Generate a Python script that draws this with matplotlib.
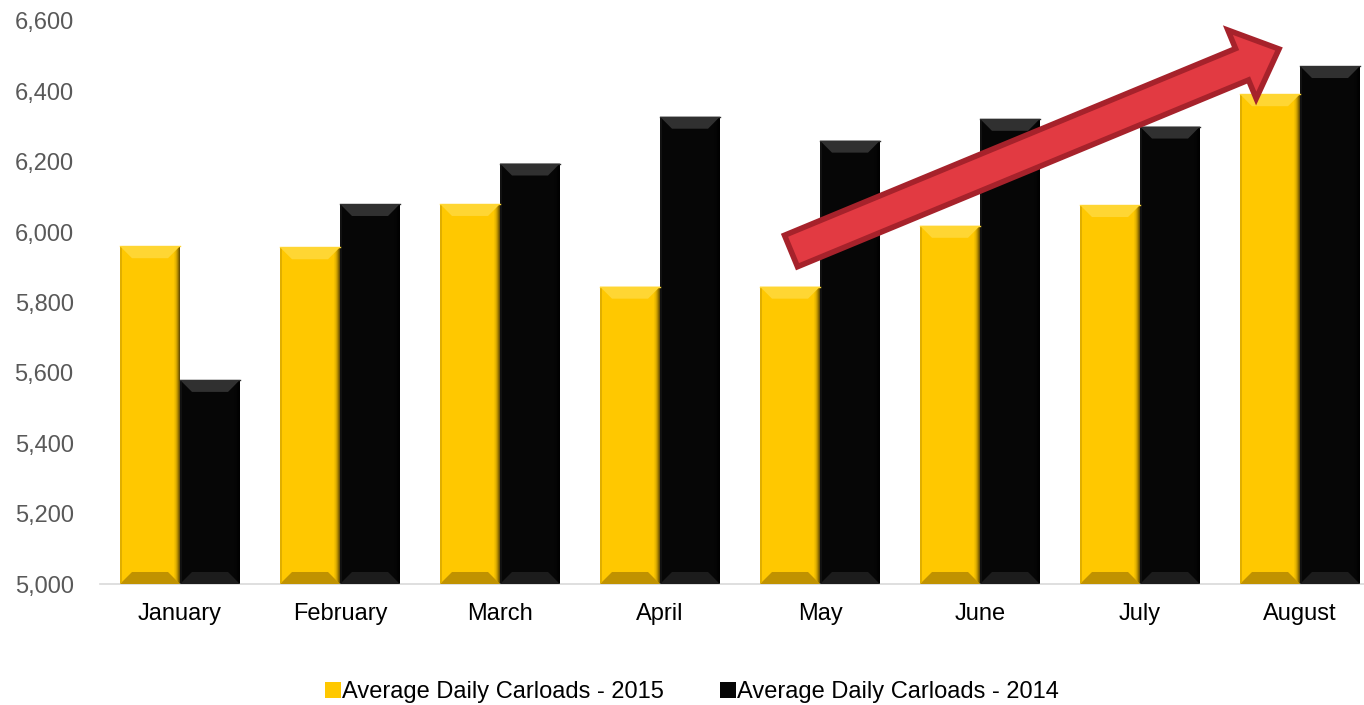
import matplotlib
matplotlib.use('Agg')
from matplotlib import pyplot as plt
from matplotlib.patches import Polygon
import numpy as np

plt.rcParams['font.family'] = ['Liberation Sans', 'DejaVu Sans']

months = ['January', 'February', 'March', 'April', 'May', 'June', 'July', 'August']
carloads_2015 = [5960, 5957, 6080, 5845, 5845, 6018, 6077, 6392]
carloads_2014 = [5580, 6080, 6195, 6328, 6260, 6322, 6300, 6472]
y_ticks = [5000, 5200, 5400, 5600, 5800, 6000, 6200, 6400, 6600]

W, H = 1364, 705
fig = plt.figure(figsize=(W / 100, H / 100), dpi=100)
# axes spans pixels x 100..1380 (clipped at the right), y 21..584
ax = fig.add_axes([100 / W, (H - 584) / H, 1280 / W, 563 / H])
ax.set_xlim(-0.5, 7.5)
ax.set_ylim(5000, 6600)

x = np.arange(len(months))
bw = 0.375
b15 = ax.bar(x - bw / 2, np.array(carloads_2015) - 5000, bw, bottom=5000, color='#FFC800', zorder=2)
b14 = ax.bar(x + bw / 2, np.array(carloads_2014) - 5000, bw, bottom=5000, color='#060606', zorder=2)

# pixel -> data sizes for the bevel
px_x = 8 / 1280
px_y = 1600 / 563


def bevel(patch, top_c, bot_c, right_c, left_c):
    x0 = patch.get_x()
    x1 = x0 + patch.get_width()
    y0 = patch.get_y()
    y1 = y0 + patch.get_height()
    dx, dy = 12 * px_x, 12 * px_y
    ax.add_patch(Polygon([(x0, y1), (x1, y1), (x1 - dx, y1 - dy), (x0 + dx, y1 - dy)],
                         closed=True, color=top_c, lw=0, zorder=3))
    ax.add_patch(Polygon([(x0, y0), (x1, y0), (x1 - dx, y0 + dy), (x0 + dx, y0 + dy)],
                         closed=True, color=bot_c, lw=0, zorder=3))
    # right side darker strip, fading in a few steps
    for i, a in enumerate([1.0, 0.75, 0.5, 0.3, 0.15, 0.07]):
        xs = x1 - (i + 1) * px_x
        ax.add_patch(Polygon([(xs, y0 + (i + 1) * px_y), (xs + px_x, y0 + i * px_y),
                              (xs + px_x, y1 - i * px_y), (xs, y1 - (i + 1) * px_y)],
                             closed=True, color=right_c, alpha=a, lw=0, zorder=3))
    ax.add_patch(Polygon([(x0, y0), (x0 + 2 * px_x, y0 + 2 * px_y),
                          (x0 + 2 * px_x, y1 - 2 * px_y), (x0, y1)],
                         closed=True, color=left_c, lw=0, zorder=3))
    # thin light line along the top
    ax.plot([x0, x1], [y1, y1], color=top_c, lw=1, zorder=4)


for p in b15:
    bevel(p, '#FFD633', '#C09200', '#6B5200', '#E0AE00')
for p in b14:
    bevel(p, '#303030', '#1C1C1C', '#000000', '#111111')

ax.set_xticks(x)
ax.set_xticklabels(months, fontsize=17, color='#000000')
ax.set_yticks(y_ticks)
ax.set_yticklabels([f'{v:,}' for v in y_ticks], fontsize=17, color='#595959')
ax.tick_params(axis='x', length=0, pad=14)
ax.tick_params(axis='y', length=0, pad=19)
for s in ['top', 'right', 'left']:
    ax.spines[s].set_visible(False)
ax.spines['bottom'].set_color('#D9D9D9')
ax.spines['bottom'].set_linewidth(1.2)

# trend arrow, drawn in figure pixels
tail = np.array([791.0, 251.0])
tip = np.array([1279.0, 49.0])
d = (tip - tail) / np.linalg.norm(tip - tail)
n = np.array([-d[1], d[0]])
body_w, head_w, head_l = 34, 74, 40
base = tip - d * head_l
pts = [tail + n * body_w / 2, base + n * body_w / 2, base + n * head_w / 2, tip,
       base - n * head_w / 2, base - n * body_w / 2, tail - n * body_w / 2]
pts = [(p[0] / W, 1 - p[1] / H) for p in pts]
fig.patches.append(Polygon(pts, closed=True, transform=fig.transFigure,
                           facecolor='#E23A42', edgecolor='#A6222B', lw=4,
                           joinstyle='miter', zorder=10))

fig.legend([b15, b14], ['Average Daily Carloads - 2015', 'Average Daily Carloads - 2014'],
           loc='center', bbox_to_anchor=(692 / W, 1 - 692 / H), ncol=2, frameon=False,
           fontsize=17, handlelength=0.65, handleheight=0.65, handletextpad=0.05,
           columnspacing=2.4)

fig.savefig('out.png', dpi=100)
